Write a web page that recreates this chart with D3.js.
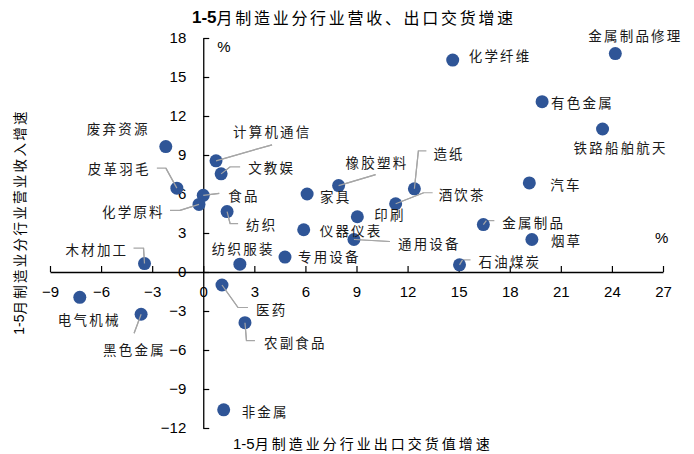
<!DOCTYPE html>
<html>
<head>
<meta charset="utf-8">
<script src="https://cdn.jsdelivr.net/npm/d3@7"></script>
<style>
  body { margin: 0; background: #fff; }
  .cjk { font-family: "Noto Sans CJK SC", sans-serif; }
  .tick text { font-family: "Liberation Sans", Arial, sans-serif; font-size: 15px; fill: #000; }
</style>
</head>
<body>
<div id="chart"></div>
<script>
// 行业名称, 出口交货值增速 (x), 营业收入增速 (y)
const industries = ["金属制品修理","化学纤维","有色金属","铁路船舶航天","废弃资源","计算机通信","文教娱","皮革羽毛","食品","化学原料",
  "纺织","家具","橡胶塑料","造纸","酒饮茶","印刷","仪器仪表","通用设备","专用设备","纺织服装",
  "木材加工","汽车","金属制品","烟草","石油煤炭","电气机械","黑色金属","医药","农副食品","非金属"]
const exportGrowth = [24.2,14.65,19.9,23.45,-2.2,0.75,1.05,-1.55,0.0,-0.25,
  1.4,6.1,7.95,12.4,11.3,9.05,5.9,8.85,4.8,2.15,
  -3.45,19.15,16.45,19.3,15.05,-7.25,-3.65,1.1,2.45,1.2]
const revenueGrowth = [16.8,16.3,13.1,11.0,9.65,8.55,7.55,6.45,5.9,5.2,
  4.65,6.0,6.65,6.4,5.25,4.25,3.25,2.5,1.15,0.6,
  0.65,6.85,3.65,2.5,0.55,-1.95,-3.25,-1.0,-3.9,-10.6]
const xTicks = d3.range(-9, 28, 3)
const yTicks = d3.range(-12, 19, 3)

// label placement relative to the dot (pixels): text offset + optional leader polyline
const labelLayout = {
  "金属制品修理":{dx:-27,dy:-19}, "化学纤维":{dx:16,dy:-5}, "有色金属":{dx:9,dy:0},
  "铁路船舶航天":{dx:-29,dy:18}, "废弃资源":{dx:-79,dy:-19},
  "计算机通信":{dx:17,dy:-30,line:[[56,-16]]}, "文教娱":{dx:27,dy:-7,line:[[9,-7],[19,-7]]},
  "皮革羽毛":{dx:-89,dy:-20,line:[[-11,-20],[-20,-20]]}, "食品":{dx:25,dy:0,line:[[16,-2]]},
  "化学原料":{dx:-97,dy:7,line:[[-19,6],[-29,6]]}, "纺织":{dx:19,dy:12,line:[[3,12],[11,12]]},
  "家具":{dx:13,dy:2}, "橡胶塑料":{dx:7,dy:-24,line:[[37,-11]]},
  "造纸":{dx:19,dy:-36,line:[[4,-38],[12,-38]]}, "酒饮茶":{dx:43,dy:-10,line:[[28,-11],[37,-11]]},
  "印刷":{dx:17,dy:-3}, "仪器仪表":{dx:16,dy:0}, "通用设备":{dx:44,dy:3,line:[[36,2]]},
  "专用设备":{dx:13,dy:-1}, "纺织服装":{dx:-28,dy:-16},
  "木材加工":{dx:-79,dy:-15,line:[[-1,-15.5],[-11,-15.5]]}, "汽车":{dx:21,dy:1},
  "金属制品":{dx:19,dy:-3,line:[[3,-4],[11,-4]]}, "烟草":{dx:19,dy:0},
  "石油煤炭":{dx:19,dy:-4,line:[[3,-5],[11,-5]]}, "电气机械":{dx:-22,dy:22},
  "黑色金属":{dx:-38,dy:35,line:[[-7,19]]}, "医药":{dx:34,dy:24,line:[[16,22.5],[26,22.5]]},
  "农副食品":{dx:19,dy:19,line:[[1.5,18],[10,18]]}, "非金属":{dx:18,dy:1.5}
}

const data = industries.map((n,i) => ({name:n, x:exportGrowth[i], y:revenueGrowth[i]}))

const width = 694, height = 454
const x = d3.scaleLinear().domain([-9, 27]).range([50, 663])
const y = d3.scaleLinear().domain([-12, 18]).range([428, 38])

const svg = d3.select("#chart")
  .append("svg")
    .attr("width", width)
    .attr("height", height)

// title
const title = svg.append("text")
  .attr("class","cjk")
  .attr("x", 192)
  .attr("y", 17)
  .attr("dominant-baseline","central")
  .style("font-size","16px")
  .style("fill","#000")
title.append("tspan")
  .style("font-family","'Liberation Sans', Arial, sans-serif")
  .style("font-weight","bold")
  .style("font-size","17px")
  .text("1-5")
title.append("tspan")
  .style("letter-spacing","2.7px")
  .text("月制造业分行业营收、出口交货增速")

//x axis
const gx = svg.append("g")
  .attr("transform","translate(0," + y(0) + ")")
  .call(d3.axisBottom(x)
    .tickValues(xTicks)
    .tickSizeInner(-6)
    .tickSizeOuter(0)
    .tickPadding(14)
    .tickFormat(d3.format("d")))
gx.select(".domain").attr("stroke","#000").attr("stroke-width",1.3)
gx.selectAll(".tick line").attr("stroke","#000").attr("stroke-width",1.2)

//y axis
const gy = svg.append("g")
  .attr("transform","translate(" + x(0) + ",0)")
  .call(d3.axisLeft(y)
    .tickValues(yTicks)
    .tickSizeInner(-6)
    .tickSizeOuter(0)
    .tickPadding(17)
    .tickFormat(d3.format("d")))
gy.select(".domain").attr("stroke","#000").attr("stroke-width",1.3)
gy.selectAll(".tick line").attr("stroke","#000").attr("stroke-width",1.2)

// unit marks
svg.append("text")
  .attr("x", x(0) + 14).attr("y", y(18) + 8)
  .attr("dominant-baseline","central")
  .style("font-family","'Liberation Sans', Arial, sans-serif")
  .style("font-size","15px")
  .text("%")
svg.append("text")
  .attr("x", x(27) - 8).attr("y", y(0) - 35)
  .attr("dominant-baseline","central")
  .style("font-family","'Liberation Sans', Arial, sans-serif")
  .style("font-size","15px")
  .text("%")

// axis titles
const xt = svg.append("text")
  .attr("class","cjk")
  .attr("x", 233).attr("y", 443)
  .attr("dominant-baseline","central")
  .style("font-size","14px")
xt.append("tspan").style("font-family","'Liberation Sans', Arial, sans-serif").style("font-size","15px").text("1-5")
xt.append("tspan").style("letter-spacing","3px").text("月制造业分行业出口交货值增速")

const yt = svg.append("text")
  .attr("class","cjk")
  .attr("transform","translate(19,222) rotate(-90)")
  .attr("text-anchor","middle")
  .attr("dominant-baseline","central")
  .style("font-size","13.5px")
yt.append("tspan").style("font-family","'Liberation Sans', Arial, sans-serif").style("font-size","14px").text("1-5")
yt.append("tspan").style("letter-spacing","2.3px").text("月制造业分行业营业收入增速")

// leader lines
svg.selectAll(null)
  .data(data.filter(d => labelLayout[d.name].line))
  .enter()
  .append("polyline")
    .attr("points", d => {
      const px = x(d.x), py = y(d.y)
      return [[px,py]].concat(labelLayout[d.name].line.map(p => [px+p[0], py+p[1]])).map(p => p.join(",")).join(" ")
    })
    .style("fill","none")
    .style("stroke","#a6a6a6")
    .style("stroke-width",1.2)

// dots
svg.selectAll("dot")
  .data(data)
  .enter()
  .append("circle")
    .attr("cx", d => x(d.x))
    .attr("cy", d => y(d.y))
    .attr("r", 6.5)
    .style("fill","#2f5597")

// leader ends drawn again on top of dots (short segment inside dot)
svg.selectAll(null)
  .data(data.filter(d => labelLayout[d.name].line))
  .enter()
  .append("line")
    .attr("x1", d => x(d.x))
    .attr("y1", d => y(d.y))
    .attr("x2", d => x(d.x) + labelLayout[d.name].line[0][0])
    .attr("y2", d => y(d.y) + labelLayout[d.name].line[0][1])
    .style("stroke","#a6a6a6")
    .style("stroke-width",1.2)

// labels
svg.selectAll(null)
  .data(data)
  .enter()
  .append("text")
    .attr("class","cjk")
    .attr("x", d => x(d.x) + labelLayout[d.name].dx)
    .attr("y", d => y(d.y) + labelLayout[d.name].dy)
    .attr("dominant-baseline","central")
    .style("font-size","13.5px")
    .style("letter-spacing","2.2px")
    .style("fill","#1a1a1a")
    .text(d => d.name)
</script>
</body>
</html>
